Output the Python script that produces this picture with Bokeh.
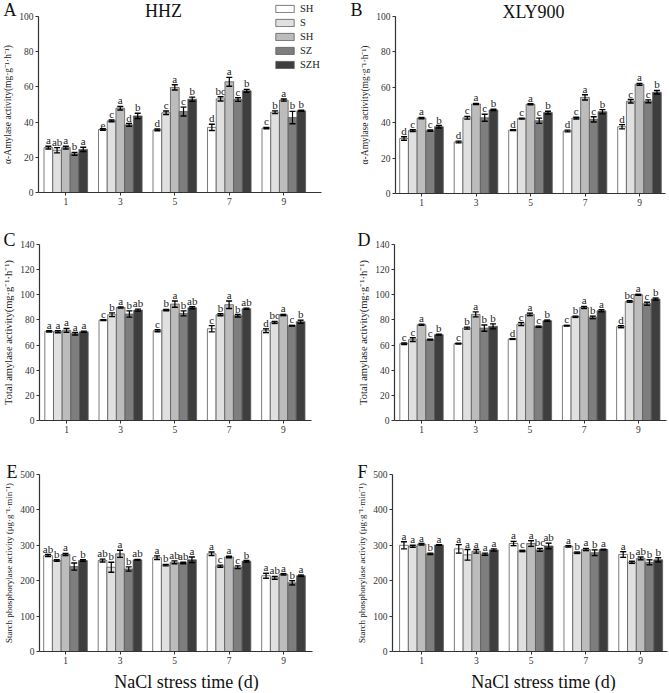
from bokeh.plotting import figure
from bokeh.models import (ColumnDataSource, Whisker, TeeHead, Label, Legend,
                          LegendItem, FixedTicker, Range1d)
from bokeh.layouts import gridplot
from bokeh.embed import file_html
from bokeh.resources import INLINE
from bokeh.core.properties import value

FONT = "Liberation Serif"

# ---------------- data ----------------
days = [1, 3, 5, 7, 9]
treatments = ["SH", "S", "SH", "SZ", "SZH"]
colors = ["#ffffff", "#e0e0e0", "#bcbcbc", "#7e7e7e", "#3e3e3e"]

# rows = treatments (SH, S, SH, SZ, SZH), columns = days 1,3,5,7,9
amy_hhz = [[25.5, 35.8, 35.6, 37.0, 36.6],
           [24.0, 40.7, 45.3, 53.2, 45.6],
           [25.5, 47.9, 59.7, 62.9, 52.5],
           [22.0, 38.4, 46.0, 52.8, 42.6],
           [24.5, 43.5, 53.0, 57.8, 46.4]]
amy_hhz_err = [[0.8, 0.4, 0.5, 1.8, 0.4],
               [1.5, 0.5, 1.0, 1.2, 0.8],
               [0.8, 1.0, 1.5, 2.5, 0.6],
               [0.8, 0.8, 2.5, 1.0, 3.5],
               [1.2, 1.5, 1.2, 0.8, 0.3]]
amy_hhz_sig = [["a", "e", "d", "d", "c"],
               ["ab", "c", "c", "bc", "b"],
               ["a", "a", "a", "a", "a"],
               ["b", "d", "c", "c", "b"],
               ["a", "b", "b", "b", "b"]]

amy_xly = [[31.1, 29.1, 35.8, 35.3, 37.7],
           [35.5, 42.8, 42.3, 42.6, 52.1],
           [42.6, 50.6, 50.4, 54.3, 61.7],
           [35.5, 42.8, 41.1, 41.9, 52.1],
           [37.7, 47.2, 45.7, 46.2, 57.2]]
amy_xly_err = [[1.0, 0.5, 0.3, 0.5, 1.2],
               [0.5, 0.8, 0.3, 0.5, 1.0],
               [0.4, 0.3, 0.3, 1.5, 0.5],
               [0.4, 2.0, 1.5, 1.5, 0.8],
               [0.7, 0.4, 0.8, 1.2, 1.0]]
amy_xly_sig = [["d"] * 5, ["c"] * 5, ["a"] * 5, ["c"] * 5, ["b"] * 5]

tot_hhz = [[70.9, 79.9, 71.4, 73.0, 71.4],
           [70.6, 84.1, 87.8, 84.1, 78.0],
           [71.7, 89.9, 92.6, 92.1, 83.9],
           [69.0, 84.7, 85.2, 83.3, 75.4],
           [70.6, 87.8, 89.7, 88.9, 78.6]]
tot_hhz_err = [[0.5, 0.3, 0.8, 2.5, 1.5],
               [0.8, 1.5, 0.5, 0.8, 0.8],
               [1.5, 0.5, 2.5, 3.0, 0.5],
               [1.0, 2.5, 2.0, 1.0, 0.3],
               [0.5, 0.8, 0.8, 0.5, 1.2]]
tot_hhz_sig = [["a", "c", "c", "c", "d"],
               ["a", "b", "b", "b", "bc"],
               ["a", "a", "a", "a", "a"],
               ["a", "b", "b", "b", "c"],
               ["a", "ab", "ab", "ab", "b"]]

tot_xly = [[61.1, 61.1, 64.8, 75.4, 74.6],
           [64.3, 73.5, 76.7, 82.5, 94.7],
           [76.2, 84.4, 84.4, 89.9, 100.0],
           [64.3, 73.5, 74.6, 82.0, 92.9],
           [68.3, 74.9, 79.4, 87.3, 96.6]]
tot_xly_err = [[0.6, 0.3, 0.3, 0.3, 0.8],
               [1.5, 0.8, 1.2, 0.5, 0.6],
               [0.5, 2.0, 1.0, 0.8, 0.4],
               [0.3, 2.5, 0.5, 1.0, 1.2],
               [0.4, 2.0, 0.5, 0.8, 0.8]]
tot_xly_sig = [["c", "c", "d", "c", "d"],
               ["c", "b", "c", "b", "bc"],
               ["a", "a", "a", "a", "a"],
               ["c", "b", "c", "b", "c"],
               ["b", "b", "b", "a", "b"]]

sp_hhz = [[271, 257, 265, 276, 214],
          [257, 238, 244, 241, 208],
          [274, 276, 252, 267, 218],
          [240, 233, 250, 238, 194],
          [257, 259, 259, 255, 214]]
sp_hhz_err = [[3, 4, 5, 5, 7],
              [2, 14, 2, 3, 4],
              [3, 10, 4, 2, 2],
              [10, 6, 2, 4, 6],
              [2, 1, 8, 2, 2]]
sp_hhz_sig = [["ab", "ab", "a", "a", "a"],
              ["b", "b", "b", "c", "ab"],
              ["a", "a", "ab", "a", "a"],
              ["c", "b", "ab", "c", "b"],
              ["b", "ab", "a", "b", "a"]]

sp_xly = [[300, 290, 305, 297, 274],
          [297, 273, 284, 279, 252],
          [303, 283, 305, 288, 263],
          [276, 275, 287, 279, 252],
          [301, 287, 298, 288, 259]]
sp_xly_err = [[10, 12, 6, 2, 8],
              [3, 15, 2, 2, 3],
              [2, 5, 8, 3, 4],
              [2, 3, 4, 8, 7],
              [1, 3, 8, 1, 6]]
sp_xly_sig = [["a", "a", "a", "a", "a"],
              ["a", "a", "c", "b", "b"],
              ["a", "a", "a", "a", "ab"],
              ["b", "a", "bc", "b", "b"],
              ["a", "a", "ab", "a", "b"]]

ylab_amy = "\u03b1-Amylase activity(mg\u00b7g\u207b\u00b9\u00b7h\u207b\u00b9)"
ylab_tot = "Total amylase activity(mg\u00b7g\u207b\u00b9\u00b7h\u207b\u00b9)"
ylab_sp = "Starch phosphorylase activity (\u03bcg\u00b7g\u207b\u00b9\u00b7min\u207b\u00b9)"
xlab = "NaCl stress time (d)"

BAR_W = 0.32
WL, WR = 345, 323
H1, H2, H3 = 230, 228, 233


def panel(means, errs, sigs, ymax, ystep, ylabel, ylabel_size,
          origin, size, axes_px, day1_px, px_per_day, letter, letter_xy,
          title=None, title_xy=None, xlabel_xy=None, legend_xy=None):
    """origin/size: canvas placement on the page; axes_px = (left, right, top, bottom)
    page pixels of the y axis, x-axis end, y=max and y=0."""
    ox, oy = origin
    w, h = size
    L, R, T, B = axes_px
    py_per_unit = (B - T) / ymax

    def dx(px):
        return 1 + (px - day1_px) / px_per_day

    def dy(py):
        return (B - py) / py_per_unit

    p = figure(width=w, height=h,
               x_range=Range1d(dx(ox), dx(ox + w)),
               y_range=Range1d(dy(oy + h), dy(oy)),
               output_backend="svg", toolbar_location=None,
               min_border=0, min_border_left=0, min_border_right=0,
               min_border_top=0, min_border_bottom=0)
    p.outline_line_color = None
    p.xgrid.grid_line_color = None
    p.ygrid.grid_line_color = None
    p.background_fill_color = "white"
    p.border_fill_color = "white"

    renderers = []
    for i in range(len(treatments)):
        off = (i - 2) * BAR_W
        src = ColumnDataSource(dict(
            x=[d + off for d in days],
            top=means[i],
            upper=[m + e for m, e in zip(means[i], errs[i])],
            lower=[m - e for m, e in zip(means[i], errs[i])],
            lab=sigs[i]))
        r = p.vbar(x="x", top="top", bottom=0, width=BAR_W, source=src,
                   fill_color=colors[i], line_color="#5a5a5a", line_width=0.8)
        renderers.append(r)
        wk = Whisker(base="x", upper="upper", lower="lower", source=src,
                     line_color="black", line_width=1.2,
                     upper_head=TeeHead(size=6, line_color="black", line_width=1.4),
                     lower_head=TeeHead(size=6, line_color="black", line_width=1.4),
                     level="overlay")
        p.add_layout(wk)
        p.text(x="x", y="upper", text="lab", source=src, text_align="center",
               text_baseline="bottom", text_font=value(FONT),
               text_font_size="11px", text_color="#222222", y_offset=0)

    for ax in (p.xaxis[0], p.yaxis[0]):
        ax.axis_line_color = "#333333"
        ax.axis_line_width = 1.2
        ax.major_tick_line_color = "#333333"
        ax.major_tick_in = 0
        ax.major_tick_out = 3
        ax.minor_tick_line_color = None
        ax.major_label_text_font = FONT
        ax.major_label_text_font_size = "9.5px"
        ax.major_label_text_color = "#333333"
        ax.major_label_standoff = 2
        ax.axis_label_text_font = FONT
        ax.axis_label_text_font_style = "normal"
        ax.axis_label_text_color = "#222222"
        ax.axis_label_standoff = 3
    p.xaxis.ticker = FixedTicker(ticks=days)
    p.xaxis.fixed_location = 0
    p.xaxis.bounds = (dx(L), dx(R))
    p.yaxis.ticker = FixedTicker(ticks=list(range(0, ymax + 1, ystep)))
    p.yaxis.fixed_location = dx(L)
    p.yaxis.bounds = (0, ymax)
    p.yaxis.axis_label = ylabel
    p.yaxis.axis_label_text_font_size = ylabel_size

    p.add_layout(Label(x=dx(letter_xy[0]), y=dy(letter_xy[1]), text=letter,
                       text_font=FONT, text_font_size="18px", text_color="#111111",
                       text_align="left", text_baseline="middle"))
    if title:
        p.add_layout(Label(x=dx(title_xy[0]), y=dy(title_xy[1]), text=title,
                           text_font=FONT, text_font_size="18px", text_color="#111111",
                           text_align="center", text_baseline="middle"))
    if xlabel_xy:
        p.add_layout(Label(x=dx(xlabel_xy[0]), y=dy(xlabel_xy[1]), text=xlab,
                           text_font=FONT, text_font_size="18px", text_color="#111111",
                           text_align="center", text_baseline="middle"))
    if legend_xy:
        items = [LegendItem(label=t, renderers=[r]) for t, r in zip(treatments, renderers)]
        # legend_xy = page px of (left, bottom) of the legend
        lg = Legend(items=items, location=(legend_xy[0] - ox, oy + h - legend_xy[1]),
                    background_fill_alpha=0, border_line_color=None,
                    label_text_font=FONT, label_text_font_size="10.5px",
                    label_text_color="#222222",
                    glyph_width=23, glyph_height=9, label_height=9,
                    spacing=3, padding=0, margin=0, label_standoff=4)
        p.add_layout(lg)
    return p


pA = panel(amy_hhz, amy_hhz_err, amy_hhz_sig, 100, 20, ylab_amy, "9.5px",
           (0, 0), (WL, H1), (38, 321, 16, 192), 65.3, 27.25, "A", (3, 9),
           title="HHZ", title_xy=(163, 10.5), legend_xy=(273, 70))
pB = panel(amy_xly, amy_xly_err, amy_xly_sig, 100, 20, ylab_amy, "9.5px",
           (WL, 0), (WR, H1), (395, 665, 16, 193), 421, 27.25, "B", (350, 9),
           title="XLY900", title_xy=(533, 11))
pC = panel(tot_hhz, tot_hhz_err, tot_hhz_sig, 140, 20, ylab_tot, "10.5px",
           (0, H1), (WL, H2), (39, 311, 244, 420), 66, 27.1, "C", (3, 239))
pD = panel(tot_xly, tot_xly_err, tot_xly_sig, 140, 20, ylab_tot, "10.5px",
           (WL, H1), (WR, H2), (394, 666, 244, 420), 421, 27.1, "D", (357, 239))
pE = panel(sp_hhz, sp_hhz_err, sp_hhz_sig, 500, 100, ylab_sp, "9px",
           (0, H1 + H2), (WL, H3), (39, 312, 474, 651), 65, 27.25, "E", (6, 471.5),
           xlabel_xy=(186, 681))
pF = panel(sp_xly, sp_xly_err, sp_xly_sig, 500, 100, ylab_sp, "9px",
           (WL, H1 + H2), (WR, H3), (392, 667, 474, 651), 421, 27.4, "F", (357, 471.5),
           xlabel_xy=(543, 681))

grid = gridplot([[pA, pB], [pC, pD], [pE, pF]], toolbar_location=None)
open("out.html", "w").write(file_html(grid, INLINE))
